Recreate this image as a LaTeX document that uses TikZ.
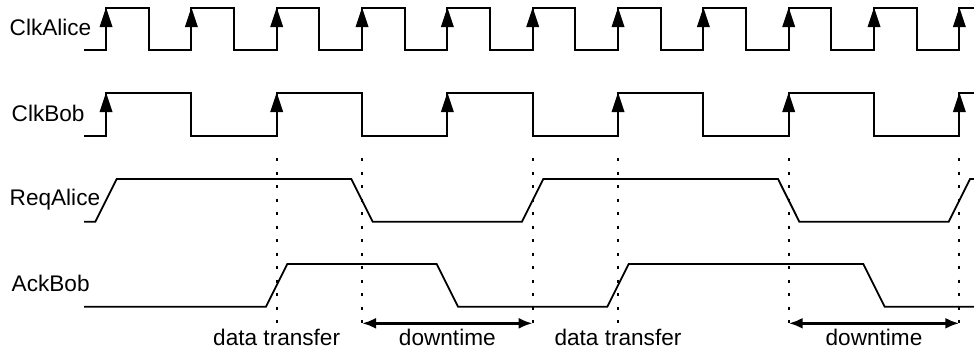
\documentclass[tikz,border=0pt]{standalone}
\usepackage{fontspec}
\setmainfont{Liberation Sans}
\usetikzlibrary{arrows.meta}

% clock period and first rising edge (in px-like units)
\def\P{85.3333}
\def\T{106}
\def\H{10.6667}% half width of a sloped transition

\tikzset{
  sig/.style={line width=1.8pt},
  guide/.style={line width=2pt, dash pattern=on 3pt off 10.5pt},
  span/.style={line width=3pt, {Latex[length=14pt,width=11pt]}-{Latex[length=14pt,width=11pt]}},
  lbl/.style={inner sep=0pt, font=\fontsize{22.6}{26}\selectfont},
  edgehead/.style={fill=black}
}

\begin{document}
\begin{tikzpicture}[x=1pt,y=-1pt]
\useasboundingbox (0,0) rectangle (974,354);
\clip (0,0) rectangle (974,354);

% signal names
\node[lbl, anchor=base west] (nClkA) at (9.5,35) {ClkAlice};
\node[lbl, anchor=base west] (nClkB) at (11.5,121) {ClkBob};
\node[lbl, anchor=base west] (nReq)  at (9.5,205.5) {ReqAlice};
\node[lbl, anchor=base west] (nAck)  at (11.5,291) {AckBob};

% ClkAlice: fast clock
\draw[sig] (84,50)
  foreach \k in {0,...,9} {
    -- ({\T+\k*\P},50) -- ({\T+\k*\P},8)
    -- ({\T+\k*\P+\P/2},8) -- ({\T+\k*\P+\P/2},50)
  }
  -- ({\T+10*\P},50) -- ({\T+10*\P},8) -- (974,8);
\foreach \k in {0,...,10}
  \fill[edgehead] ({\T+\k*\P},7.5) -- ({\T+\k*\P-6.5},27) -- ({\T+\k*\P+6.5},27) -- cycle;

% ClkBob: half-rate clock
\draw[sig] (84,136)
  foreach \k in {0,2,4,6,8} {
    -- ({\T+\k*\P},136) -- ({\T+\k*\P},93)
    -- ({\T+\k*\P+\P},93) -- ({\T+\k*\P+\P},136)
  }
  -- ({\T+10*\P},136) -- ({\T+10*\P},93) -- (974,93);
\foreach \k in {0,2,4,6,8,10}
  \fill[edgehead] ({\T+\k*\P},92.5) -- ({\T+\k*\P-6.5},112) -- ({\T+\k*\P+6.5},112) -- cycle;

% ReqAlice
\draw[sig] (84,221.7)
  -- ({\T-\H},221.7) -- ({\T+\H},179)
  -- ({\T+3*\P-\H},179) -- ({\T+3*\P+\H},221.7)
  -- ({\T+5*\P-\H},221.7) -- ({\T+5*\P+\H},179)
  -- ({\T+8*\P-\H},179) -- ({\T+8*\P+\H},221.7)
  -- ({\T+10*\P-\H},221.7) -- ({\T+10*\P+\H},179) -- (974,179);

% AckBob
\draw[sig] (84,306.7)
  -- ({\T+2*\P-\H},306.7) -- ({\T+2*\P+\H},264)
  -- ({\T+4*\P-\H},264) -- ({\T+4*\P+\H},306.7)
  -- ({\T+6*\P-\H},306.7) -- ({\T+6*\P+\H},264)
  -- ({\T+9*\P-\H},264) -- ({\T+9*\P+\H},306.7)
  -- (974,306.7);

% dotted markers at the handshake clock edges
\foreach \k/\n in {2/g1,3/g2,5/g3,6/g4,8/g5,10/g6} {
  \coordinate (\n t) at ({\T+\k*\P},158);
  \coordinate (\n b) at ({\T+\k*\P},324);
  \draw[guide] (\n t) -- (\n b);
}

% downtime spans
\coordinate (d1a) at ({\T+3*\P},323.3);
\coordinate (d1b) at ({\T+5*\P},323.3);
\coordinate (d2a) at ({\T+8*\P},323.3);
\coordinate (d2b) at ({\T+10*\P},323.3);
\draw[span] (d1a) -- (d1b);
\draw[span] (d2a) -- (d2b);

% phase labels
\node[lbl, anchor=base] (t1) at ({\T+2*\P},345) {data transfer};
\node[lbl, anchor=base] (t2) at ({\T+4*\P},345) {downtime};
\node[lbl, anchor=base] (t3) at ({\T+6*\P},345) {data transfer};
\node[lbl, anchor=base] (t4) at ({\T+9*\P},345) {downtime};
\end{tikzpicture}
\end{document}
